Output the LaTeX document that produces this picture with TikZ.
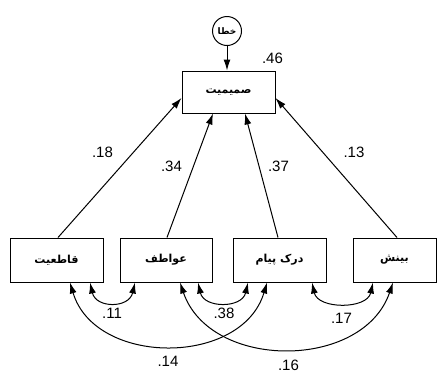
\documentclass[tikz,border=0pt]{standalone}
\usepackage{fontspec}
\setmainfont{Liberation Sans}
\newfontfamily\arabicfont[Script=Arabic]{DejaVu Sans}
\TeXXeTstate=1
\usetikzlibrary{arrows.meta,calc}
\begin{document}
\begin{tikzpicture}[x=1pt,y=-1pt,
  box/.style={draw,line width=1pt,minimum width=93pt,minimum height=44pt,inner sep=0pt,font=\arabicfont\bfseries\fontsize{11}{12}\selectfont},
  err/.style={draw,circle,line width=1pt,minimum size=29pt,inner sep=0pt,font=\arabicfont\bfseries\fontsize{9}{10}\selectfont},
  arr/.style={line width=1pt,-{Latex[length=11pt,width=7pt]}},
  cov/.style={line width=1pt,{Latex[length=11pt,width=7pt]}-{Latex[length=11pt,width=7pt]}},
  lab/.style={font=\fontsize{15}{16}\selectfont,inner sep=0pt}]
\useasboundingbox (0,0) rectangle (442,373);
\fill[white] (0,0) rectangle (442,373);
\node[box,minimum height=42pt] (top) at (228.5,92) {\beginR صمیمیت\endR};
\node[err] (e) at (227,31) {\beginR خطا\endR};
\node[box] (b1) at (56.5,260) {\beginR قاطعیت\endR};
\node[box,minimum width=92pt] (b2) at (166,260) {\beginR عواطف\endR};
\node[box] (b3) at (279.5,260) {\beginR درک پیام\endR};
\node[box,minimum width=83pt] (b4) at (394.5,260) {\beginR بینش\endR};
\draw[arr] (e) -- (e |- top.north);
\draw[arr] ([xshift=1.5pt]b1.north) -- ([yshift=-6pt]top.west);
\draw[arr] ([xshift=1pt]b2.north) -- ([xshift=-15.5pt]top.south);
\draw[arr] ([xshift=-1.5pt]b3.north) -- ([xshift=16.5pt]top.south);
\draw[arr] ([xshift=2.5pt]b4.north) -- ([yshift=-6pt]top.east);
\node[lab] (l46) at (272.5,58) {.46};
\node[lab] (l18) at (102.5,152.5) {.18};
\node[lab] (l34) at (171.5,166) {.34};
\node[lab] (l37) at (278.5,166) {.37};
\node[lab] (l13) at (354,152.5) {.13};
% covariances
\coordinate (c1a) at ([xshift=33.5pt]b1.south);
\coordinate (c1b) at ([xshift=-31pt]b2.south);
\draw[cov] (c1a) .. controls ($(c1a)+(6,26)$) and ($(c1b)+(-6,26)$) .. (c1b);
\coordinate (c2a) at ([xshift=32pt]b2.south);
\coordinate (c2b) at ([xshift=-31.5pt]b3.south);
\draw[cov] (c2a) .. controls ($(c2a)+(6,26)$) and ($(c2b)+(-6,26)$) .. (c2b);
\coordinate (c3a) at ([xshift=32.5pt]b3.south);
\coordinate (c3b) at ([xshift=-21.5pt]b4.south);
\draw[cov] (c3a) .. controls ($(c3a)+(6,27)$) and ($(c3b)+(-6,27)$) .. (c3b);
\coordinate (c4a) at ([xshift=13.5pt]b1.south);
\coordinate (c4b) at ([xshift=-12.5pt]b3.south);
\draw[cov] (c4a) .. controls ($(c4a)+(25,84)$) and ($(c4b)+(-25,84)$) .. (c4b);
\coordinate (c5a) at ([xshift=14pt]b2.south);
\coordinate (c5b) at ([xshift=-1.5pt]b4.south);
\draw[cov] (c5a) .. controls ($(c5a)+(30,88)$) and ($(c5b)+(-30,88)$) .. (c5b);
\node[lab] (l11) at (112,313) {.11};
\node[lab] (l38) at (224,313) {.38};
\node[lab] (l17) at (341.5,318) {.17};
\node[lab] (l14) at (168,361) {.14};
\node[lab] (l16) at (288.5,365) {.16};
\end{tikzpicture}
\end{document}
